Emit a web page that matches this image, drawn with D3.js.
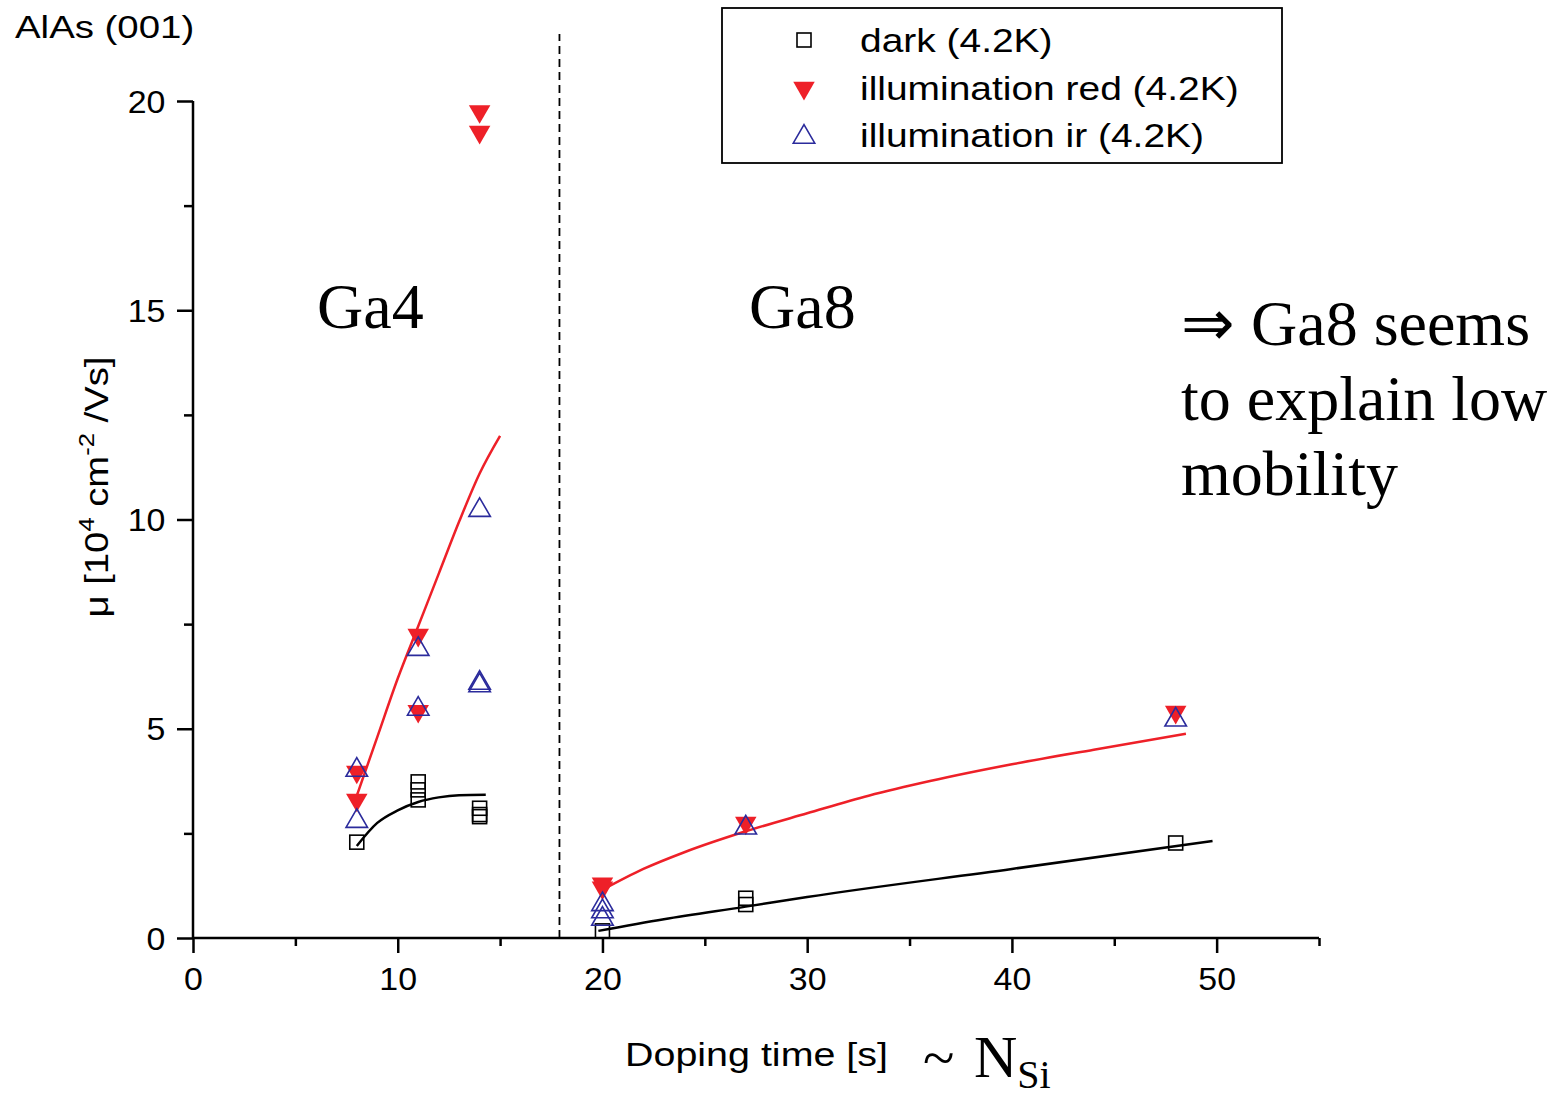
<!DOCTYPE html>
<html>
<head>
<meta charset="utf-8">
<script src="https://cdn.jsdelivr.net/npm/d3@7"></script>
<style>
  body { margin: 0; background: #fff; }
  svg text { fill: #000; }
</style>
</head>
<body>
<div id="root"></div>
<script>
// --- data ----------------------------------------------------------------
const darkPts = [
  [8, 2.29], [11, 3.73], [11, 3.54], [11, 3.3],
  [14, 3.1], [14, 2.95], [14, 2.9],
  [20, 0.17], [27, 0.95], [27, 0.8], [48, 2.27],
]
const redPts = [
  [8, 3.3], [8, 3.97], [11, 7.24], [11, 5.42],
  [14, 19.75], [14, 19.26],
  [20, 1.3], [20, 1.2], [27, 2.75], [48, 5.4],
]
const irPts = [
  [8, 4.06], [8, 2.84], [11, 6.95], [11, 5.52],
  [14, 10.27], [14, 6.14], [14, 6.08],
  [20, 0.85], [20, 0.68], [20, 0.5], [27, 2.68], [48, 5.26],
]
const redFitGa4 = [[8, 3.4], [9, 4.8], [10, 6.2], [11, 7.45], [12, 8.7], [13, 9.95], [14, 11.1], [15, 12.0]]
const darkFitGa4 = [[8, 2.2], [9, 2.75], [10, 3.05], [11, 3.25], [12, 3.36], [13, 3.41], [14.3, 3.42]]
const redFitGa8 = [[20, 1.15], [22, 1.65], [24, 2.05], [27, 2.55], [30, 2.98], [33, 3.4], [36, 3.75], [40, 4.15], [44, 4.5], [48.5, 4.88]]
const darkFitGa8 = [[19.8, 0.17], [23, 0.45], [27, 0.75], [30, 0.98], [40, 1.65], [49.8, 2.32]]
const xTicks = [0, 10, 20, 30, 40, 50]
const yTicks = [0, 5, 10, 15, 20]
const legendItems = ['dark (4.2K)', 'illumination red (4.2K)', 'illumination ir (4.2K)']
const boundaryX = 17.9

const RED = '#ee2028'
const BLUE = '#2b2b9c'
const SANS = 'Liberation Sans, Arial, Helvetica, sans-serif'
const SERIF = 'Liberation Serif, Times New Roman, serif'

const W = 1555, H = 1098
const x = d3.scaleLinear().domain([0, 55]).range([193, 1319])
const y = d3.scaleLinear().domain([0, 20]).range([938, 101])

const svg = d3.select('#root').append('svg')
  .attr('width', W).attr('height', H)

// sans text in the original is wider than Liberation Sans, so stretch it
function label(px, py, txt, size, sx, family = SANS) {
  return svg.append('text')
    .attr('transform', `translate(${px},${py}) scale(${sx},1)`)
    .attr('font-family', family).attr('font-size', size).text(txt)
}

// axes
const xAxis = svg.append('g').attr('transform', `translate(0,${y(0)})`)
  .call(d3.axisBottom(x).tickValues(xTicks).tickSize(15).tickPadding(14))
const xMinor = svg.append('g').attr('transform', `translate(0,${y(0)})`)
  .call(d3.axisBottom(x).tickValues(d3.range(5, 56, 10)).tickSize(8).tickFormat(''))
const yAxis = svg.append('g').attr('transform', `translate(${x(0)},0)`)
  .call(d3.axisLeft(y).tickValues(yTicks).tickSize(16).tickPadding(10))
const yMinor = svg.append('g').attr('transform', `translate(${x(0)},0)`)
  .call(d3.axisLeft(y).tickValues(d3.range(2.5, 20, 5)).tickSize(9).tickFormat(''))

;[xAxis, xMinor, yAxis, yMinor].forEach(g => {
  g.selectAll('.domain').attr('stroke', '#000').attr('stroke-width', 2.5)
  g.selectAll('.tick line').attr('stroke', '#000').attr('stroke-width', 2.5)
  g.selectAll('.tick text').attr('font-family', SANS).attr('font-size', 32).attr('fill', '#000')
    .attr('transform', 'scale(1.06,1)')
})
xMinor.select('.domain').remove()
yMinor.select('.domain').remove()
xAxis.select('.domain').attr('d', `M${x(0)},0H${x(55)}`)
yAxis.select('.domain').attr('d', `M0,${y(0)}V${y(20)}`)
yAxis.selectAll('.tick text').attr('dy', '0.35em')

// boundary line between Ga4 and Ga8
svg.append('line')
  .attr('x1', x(boundaryX)).attr('x2', x(boundaryX))
  .attr('y1', y(0)).attr('y2', y(21.6))
  .attr('stroke', '#000').attr('stroke-width', 1.8)
  .attr('stroke-dasharray', '8,5')

// fit curves
const line = d3.line().x(d => x(d[0])).y(d => y(d[1])).curve(d3.curveMonotoneX)
const fits = [
  [redFitGa4, RED], [darkFitGa4, '#000'],
  [redFitGa8, RED], [darkFitGa8, '#000'],
]
fits.forEach(([pts, c]) => {
  svg.append('path').attr('d', line(pts))
    .attr('fill', 'none').attr('stroke', c).attr('stroke-width', 2.5)
})

// markers
const sq = 14
const tri = d3.symbol().type(d3.symbolTriangle).size(200)
function drawSquares(g, pts) {
  g.selectAll('rect.sq').data(pts).join('rect')
    .attr('class', 'sq')
    .attr('x', d => x(d[0]) - sq / 2).attr('y', d => y(d[1]) - sq / 2)
    .attr('width', sq).attr('height', sq)
    .attr('fill', 'none').attr('stroke', '#000').attr('stroke-width', 1.6)
}
function drawRed(g, pts) {
  g.selectAll('path.rd').data(pts).join('path')
    .attr('class', 'rd')
    .attr('d', tri)
    .attr('transform', d => `translate(${x(d[0])},${y(d[1])}) rotate(180)`)
    .attr('fill', RED)
}
function drawIr(g, pts) {
  g.selectAll('path.ir').data(pts).join('path')
    .attr('class', 'ir')
    .attr('d', tri)
    .attr('transform', d => `translate(${x(d[0])},${y(d[1]) + 2})`)
    .attr('fill', 'none').attr('stroke', BLUE).attr('stroke-width', 1.6)
}
const marks = svg.append('g')
drawSquares(marks.append('g'), darkPts)
drawRed(marks.append('g'), redPts)
drawIr(marks.append('g'), irPts)

// legend
const leg = svg.append('g')
leg.append('rect').attr('x', 722).attr('y', 8).attr('width', 560).attr('height', 155)
  .attr('fill', '#fff').attr('stroke', '#000').attr('stroke-width', 1.8)
const rowY = [40, 88, 135]
legendItems.forEach((t, i) => {
  label(860, rowY[i] + 12, t, 33, 1.18)
})
drawSquares(leg.append('g'), [[x.invert(804), y.invert(rowY[0])]])
drawRed(leg.append('g'), [[x.invert(804), y.invert(rowY[1])]])
drawIr(leg.append('g'), [[x.invert(804), y.invert(rowY[2])]])

// titles & labels
label(15, 38, 'AlAs (001)', 32, 1.2)
label(625, 1066, 'Doping time [s]', 34, 1.16)

svg.append('text').attr('x', 923).attr('y', 1077)
  .attr('font-family', SERIF).attr('font-size', 58).text('~')
const nsi = svg.append('text').attr('x', 974).attr('y', 1077).attr('font-family', SERIF)
nsi.append('tspan').attr('font-size', 60).text('N')
nsi.append('tspan').attr('font-size', 40).attr('dy', 11).text('Si')

const yl = svg.append('text')
  .attr('transform', 'translate(108,487) rotate(-90) scale(1.16,1)')
  .attr('text-anchor', 'middle')
  .attr('font-family', SANS).attr('font-size', 33)
yl.append('tspan').text('\u03bc [10')
yl.append('tspan').attr('font-size', 22).attr('dy', -14).text('4')
yl.append('tspan').attr('dy', 14).text(' cm')
yl.append('tspan').attr('font-size', 22).attr('dy', -14).text('-2')
yl.append('tspan').attr('dy', 14).text(' /Vs]')

svg.append('text').attr('x', 317).attr('y', 328)
  .attr('font-family', SERIF).attr('font-size', 64).text('Ga4')
svg.append('text').attr('x', 749).attr('y', 328)
  .attr('font-family', SERIF).attr('font-size', 64).text('Ga8')

const note = ['\u21d2 Ga8 seems', 'to explain low', 'mobility']
note.forEach((t, i) => {
  svg.append('text').attr('x', 1181).attr('y', 345 + i * 75)
    .attr('font-family', SERIF).attr('font-size', 64).text(t)
})
</script>
</body>
</html>
